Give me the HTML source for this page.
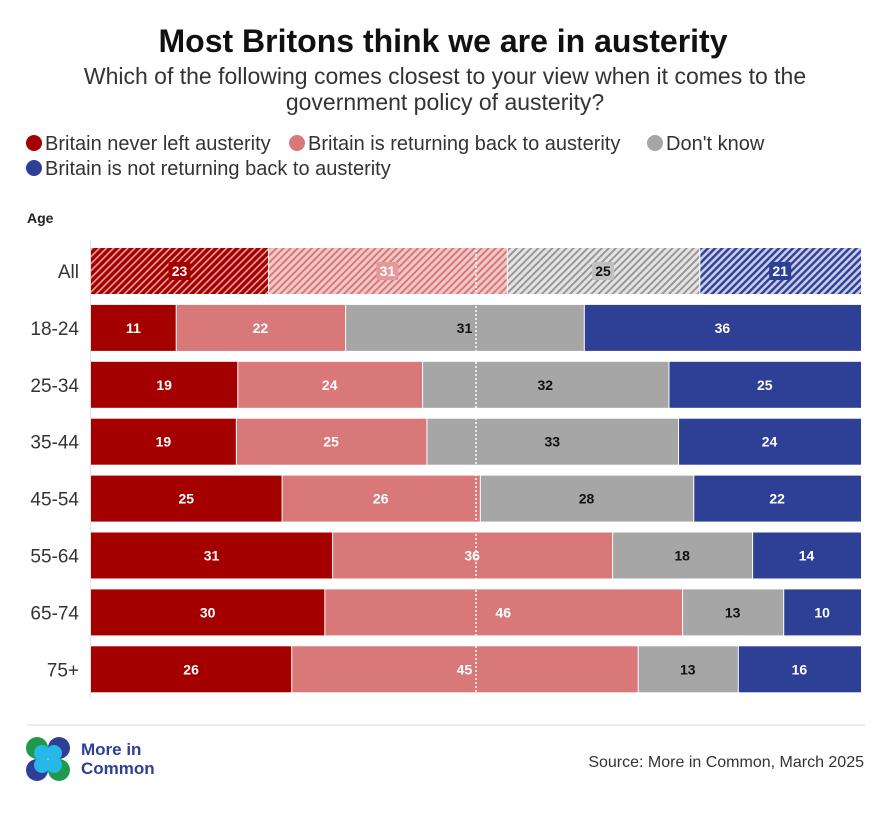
<!DOCTYPE html>
<html><head><meta charset="utf-8"><style>
body{margin:0;background:#fff;font-family:"Liberation Sans",sans-serif;}
svg text{font-family:"Liberation Sans",sans-serif;}
</style></head><body>
<svg id="c" width="886" height="810" viewBox="0 0 886 810" xmlns="http://www.w3.org/2000/svg">
<defs>
<pattern id="h0" width="5" height="5" patternUnits="userSpaceOnUse" patternTransform="rotate(45)"><rect width="5" height="5" fill="#a50000"/><rect width="1.6" height="5" fill="#e8a0a0"/></pattern>
<pattern id="h1" width="5" height="5" patternUnits="userSpaceOnUse" patternTransform="rotate(45)"><rect width="5" height="5" fill="#f0c8c8"/><rect width="2" height="5" fill="#d87878"/></pattern>
<pattern id="h2" width="5" height="5" patternUnits="userSpaceOnUse" patternTransform="rotate(45)"><rect width="5" height="5" fill="#e4e4e4"/><rect width="2" height="5" fill="#999"/></pattern>
<pattern id="h3" width="5" height="5" patternUnits="userSpaceOnUse" patternTransform="rotate(45)"><rect width="5" height="5" fill="#c8cde6"/><rect width="2.4" height="5" fill="#2e3f96"/></pattern>
</defs>
<text x="443" y="52" text-anchor="middle" font-size="32" font-weight="bold" fill="#111">Most Britons think we are in austerity</text>
<text x="445" y="84" text-anchor="middle" font-size="23" fill="#333">Which of the following comes closest to your view when it comes to the</text>
<text x="445" y="110" text-anchor="middle" font-size="23" fill="#333">government policy of austerity?</text>
<g font-size="20" fill="#333">
<g><circle cx="34" cy="143" r="8" fill="#a50000"/><text x="45" y="150">Britain never left austerity</text></g>
<g><circle cx="297" cy="143" r="8" fill="#d87878"/><text x="308" y="150">Britain is returning back to austerity</text></g>
<g><circle cx="655" cy="143" r="8" fill="#a6a6a6"/><text x="666" y="150">Don't know</text></g>
<g><circle cx="34" cy="168" r="8" fill="#2e3f96"/><text x="45" y="175">Britain is not returning back to austerity</text></g>
</g>
<text x="27" y="223" font-size="14" font-weight="bold" fill="#222">Age</text>
<line x1="90.5" y1="240" x2="90.5" y2="698" stroke="#e2e2e2"/>
<g id="bars"></g>
<line x1="476" y1="246" x2="476" y2="694" stroke="#fff" stroke-width="1.5" stroke-dasharray="2,2"/>
<line x1="27" y1="725" x2="865" y2="725" stroke="#e6e6e6" stroke-width="1.5"/>
<g>
<circle cx="37" cy="748" r="11" fill="#1f9a4a"/><circle cx="59" cy="748" r="11" fill="#2e3f96"/>
<circle cx="37" cy="770" r="11" fill="#2e3f96"/><circle cx="59" cy="770" r="11" fill="#1f9a4a"/>
<circle cx="42" cy="753" r="8" fill="#26b8e6"/><circle cx="54" cy="753" r="8" fill="#26b8e6"/>
<circle cx="42" cy="765" r="8" fill="#26b8e6"/><circle cx="54" cy="765" r="8" fill="#26b8e6"/>
<text x="81" y="755" font-size="17" font-weight="bold" fill="#2e3f96">More in</text>
<text x="81" y="774" font-size="17" font-weight="bold" fill="#2e3f96">Common</text>
</g>
<text x="864" y="767" text-anchor="end" font-size="16" fill="#333">Source: More in Common, March 2025</text>
</svg>
<script>
const categories=["All","18-24","25-34","35-44","45-54","55-64","65-74","75+"];
const neverLeft=[23,11,19,19,25,31,30,26];
const returning=[31,22,24,25,26,36,46,45];
const dontKnow=[25,31,32,33,28,18,13,13];
const notReturning=[21,36,25,24,22,14,10,16];
const seriesNames=["never-left","returning","dont-know","not-returning"];
const fills=["#a50000","#d87878","#a6a6a6","#2e3f96"];
const textFill=["#fff","#fff","#111","#fff"];
const X0=91,X1=861,Y0=271,STEP=56.9,BH=46;
const xs=v=>X0+(X1-X0)*v/100;
const yc=i=>Y0+STEP*i;
const ns="http://www.w3.org/2000/svg";
const g=document.getElementById("bars");
const series=[neverLeft,returning,dontKnow,notReturning];
categories.forEach((cat,i)=>{
  const t=document.createElementNS(ns,"text");
  t.setAttribute("x",79);t.setAttribute("y",yc(i)+7);t.setAttribute("text-anchor","end");
  t.setAttribute("font-size","19");t.setAttribute("fill","#333");t.textContent=cat;
  
  
  g.appendChild(t);
  const tot=series.reduce((a,s)=>a+s[i],0);
  let cum=0;
  series.forEach((s,k)=>{
    const v=s[i]/tot*100;
    const xa=xs(cum),xb=xs(cum+v);
    const r=document.createElementNS(ns,"rect");
    r.setAttribute("x",xa+(k?1:0));r.setAttribute("y",yc(i)-BH/2);
    r.setAttribute("width",Math.max(0,xb-xa-(k?1:0)));r.setAttribute("height",BH);
    r.setAttribute("fill",i===0?"url(#h"+k+")":fills[k]);
    
    
    g.appendChild(r);
    const lx=(xa+xb)/2;
    if(i===0){
      const bg=document.createElementNS(ns,"rect");
      bg.setAttribute("x",lx-11);bg.setAttribute("y",yc(i)-9);bg.setAttribute("width",22);bg.setAttribute("height",18);
      bg.setAttribute("fill",["#a50000","#e39a9a","#c0c0c0","#2e3f96"][k]);bg.setAttribute("rx",2);
      
      
      g.appendChild(bg);
    }
    const l=document.createElementNS(ns,"text");
    l.setAttribute("x",lx);l.setAttribute("y",yc(i)+5);l.setAttribute("text-anchor","middle");
    l.setAttribute("font-size","14");l.setAttribute("font-weight","bold");
    l.setAttribute("fill",i===0&&k===2?"#111":textFill[k]);l.textContent=s[i];
    
    
    g.appendChild(l);
    cum+=v;
  });
});
</script>
</body></html>
